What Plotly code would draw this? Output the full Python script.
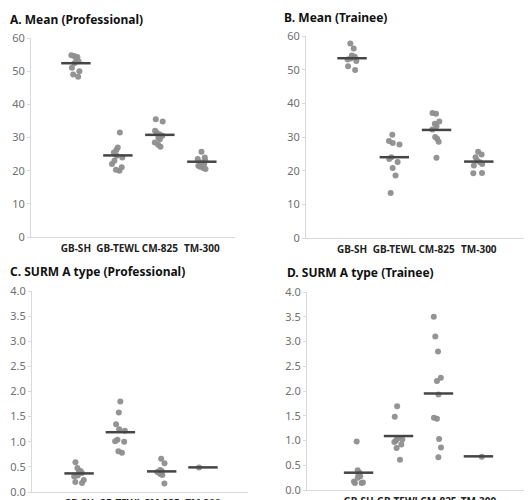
import plotly.graph_objects as go

categories = ["GB-SH", "GB-TEWL", "CM-825", "TM-300"]

# Panel A: Mean (Professional)
a_gbsh = [54.8, 54.6, 54.3, 54.1, 53.0, 52.5, 51.0, 50.0, 49.0, 48.3]
a_gbtewl = [31.5, 27.0, 26.2, 25.5, 24.5, 24.0, 23.0, 22.0, 21.0, 20.3, 20.0]
a_cm825 = [35.5, 34.8, 32.0, 31.5, 31.0, 30.5, 30.0, 29.5, 28.5, 27.8, 27.2]
a_tm300 = [25.7, 24.0, 23.5, 23.0, 22.5, 22.0, 21.5, 21.2, 20.8, 20.5]
a_means = [52.4, 24.6, 30.8, 22.7]

# Panel B: Mean (Trainee)
b_gbsh = [57.8, 56.3, 54.2, 53.8, 53.3, 53.0, 52.6, 51.0, 49.9]
b_gbtewl = [30.7, 28.8, 28.2, 27.8, 24.0, 23.5, 22.6, 20.8, 18.6, 13.4]
b_cm825 = [37.1, 36.9, 34.6, 33.9, 33.2, 32.2, 30.0, 29.5, 28.6, 23.8]
b_tm300 = [25.6, 24.8, 24.0, 23.0, 22.5, 22.0, 21.5, 19.3, 19.2]
b_means = [53.4, 24.0, 32.1, 22.7]

# Panel C: SURM A type (Professional)
c_gbsh = [0.59, 0.48, 0.42, 0.40, 0.38, 0.33, 0.31, 0.24, 0.20, 0.18]
c_gbtewl = [1.80, 1.58, 1.35, 1.25, 1.22, 1.04, 1.01, 1.00, 0.81, 0.78]
c_cm825 = [0.66, 0.57, 0.44, 0.42, 0.40, 0.36, 0.34, 0.17]
c_tm300 = [0.49]
c_means = [0.37, 1.19, 0.41, 0.49]

# Panel D: SURM A type (Trainee)
d_gbsh = [0.98, 0.40, 0.35, 0.32, 0.28, 0.25, 0.17, 0.15, 0.14, 0.14]
d_gbtewl = [1.69, 1.48, 1.04, 1.02, 1.00, 0.97, 0.92, 0.85, 0.61]
d_cm825 = [3.50, 3.10, 2.80, 2.27, 2.20, 1.93, 1.46, 1.44, 1.03, 0.86, 0.66]
d_tm300 = [0.67]
d_means = [0.35, 1.09, 1.95, 0.68]

titles = ["A. Mean (Professional)", "B. Mean (Trainee)",
          "C. SURM A type (Professional)", "D. SURM A type (Trainee)"]

panels = [
    ([a_gbsh, a_gbtewl, a_cm825, a_tm300], a_means),
    ([b_gbsh, b_gbtewl, b_cm825, b_tm300], b_means),
    ([c_gbsh, c_gbtewl, c_cm825, c_tm300], c_means),
    ([d_gbsh, d_gbtewl, d_cm825, d_tm300], d_means),
]

W, H = 529, 500
# layout in pixels: (x_left, x_right, y_top, y_bottom, x_range, y_max, dtick)
geo = [
    (31, 235, 38, 237, [-1.07, 3.79], 60, 10),
    (306, 524, 36, 238, [-1.09, 4.07], 60, 10),
    (32, 248, 291, 492, [-1.14, 4.09], 4.0, 0.5),
    (307, 524, 292, 490, [-1.29, 4.14], 4.0, 0.5),
]
title_pos = [(8, 19), (282, 17), (8, 271), (285, 272)]

fig = go.Figure()
layout = dict(width=W, height=H, margin=dict(l=0, r=0, t=0, b=0, autoexpand=False),
              paper_bgcolor="white", plot_bgcolor="white", showlegend=False,
              boxmode="overlay", font=dict(family="Noto Sans"))
annotations = []

for i, ((groups, means), g) in enumerate(zip(panels, geo)):
    xl, xr, yt, yb, xrng, ymax, dt = g
    sfx = "" if i == 0 else str(i + 1)
    xs, ys = [], []
    for cat, vals in zip(categories, groups):
        xs += [cat] * len(vals)
        ys += vals
    fig.add_trace(go.Box(
        x=xs, y=ys, xaxis="x" + sfx, yaxis="y" + sfx,
        boxpoints="all", jitter=0.6, pointpos=0,
        line=dict(color="rgba(0,0,0,0)", width=0),
        fillcolor="rgba(0,0,0,0)",
        marker=dict(color="#8e8e8e", size=6, opacity=0.95),
    ))
    fig.add_trace(go.Scatter(
        x=categories, y=means, xaxis="x" + sfx, yaxis="y" + sfx,
        mode="markers",
        marker=dict(symbol="line-ew", size=21,
                    line=dict(color="#454545", width=2.5)),
    ))
    layout["xaxis" + sfx] = dict(
        domain=[xl / W, xr / W], anchor="y" + sfx, automargin=False,
        type="category", categoryorder="array", categoryarray=categories,
        range=xrng, showline=True, linecolor="#d9d9d9", linewidth=1,
        showgrid=False, zeroline=False, ticks="", tickangle=0, ticklabelstandoff=2,
        tickfont=dict(family="Noto Sans", size=10, color="#222222", weight="bold"),
    )
    layout["yaxis" + sfx] = dict(
        domain=[1 - yb / H, 1 - yt / H], anchor="x" + sfx, automargin=False,
        range=[0, ymax], dtick=dt, tick0=0,
        tickformat=".1f" if ymax < 10 else "d",
        showline=True, linecolor="#d9d9d9", linewidth=1,
        showgrid=False, zeroline=False, ticks="outside", ticklen=3,
        tickcolor="#d9d9d9",
        tickfont=dict(family="Noto Sans", size=11, color="#707070"),
    )
    tx, ty = title_pos[i]
    annotations.append(dict(
        text="<b>" + titles[i] + "</b>", x=tx / W, y=1 - ty / H,
        xref="paper", yref="paper", xanchor="left", yanchor="middle",
        showarrow=False, font=dict(family="Noto Sans", size=12, color="#111111"),
    ))

layout["annotations"] = annotations
fig.update_layout(**layout)
fig.write_html("out.html")
